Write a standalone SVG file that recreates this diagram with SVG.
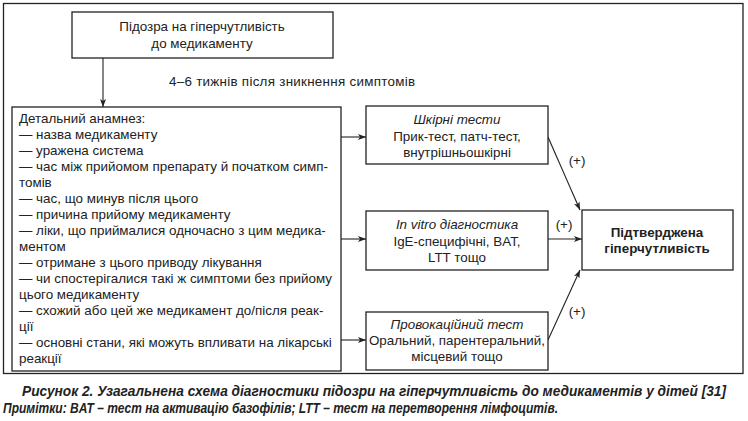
<svg xmlns="http://www.w3.org/2000/svg" width="748" height="421" viewBox="0 0 748 421">
<style>
.box{fill:#fff;stroke:#222;stroke-width:1.3}
.frame{fill:none;stroke:#222;stroke-width:1.3}
.t{font-family:"Liberation Sans",Arial,sans-serif;font-size:13.4px;fill:#222}
.c{text-anchor:middle}
.i{font-style:italic}
.b{font-weight:bold}
.cap{font-family:"Liberation Sans",Arial,sans-serif;font-size:14px;font-weight:bold;font-style:italic;fill:#222}
.ln{stroke:#222;stroke-width:1.1;fill:none}
</style>
<defs>
<marker id="ah" markerWidth="8" markerHeight="6" refX="8" refY="3" orient="auto" markerUnits="userSpaceOnUse">
<path d="M0,0 L8,3 L0,6 L2,3 Z" fill="#222"/>
</marker>
</defs>
<rect width="748" height="421" fill="#fff"/>
<rect class="frame" x="3.5" y="3.5" width="739.5" height="370"/>
<g id="connectors">
<line class="ln" x1="103" y1="58" x2="103" y2="107" marker-end="url(#ah)"/>
<line class="ln" x1="341" y1="137" x2="366" y2="137" marker-end="url(#ah)"/>
<line class="ln" x1="341" y1="239" x2="366" y2="239" marker-end="url(#ah)"/>
<line class="ln" x1="341" y1="340" x2="366" y2="340" marker-end="url(#ah)"/>
<line class="ln" x1="548" y1="137" x2="580" y2="210" marker-end="url(#ah)"/>
<line class="ln" x1="548" y1="239" x2="582" y2="239" marker-end="url(#ah)"/>
<line class="ln" x1="548" y1="340" x2="580" y2="270" marker-end="url(#ah)"/>
<text class="t" x="577" y="165" text-anchor="middle">(+)</text>
<text class="t" x="564" y="229" text-anchor="middle">(+)</text>
<text class="t" x="577" y="316" text-anchor="middle">(+)</text>
<text class="t" x="169" y="86" textLength="246" lengthAdjust="spacing">4–6 тижнів після зникнення симптомів</text>
</g>
<g id="suspicion">
<rect class="box" x="72" y="12" width="261" height="46"/>
<text class="t c" x="202" y="31">Підозра на гіперчутливість</text>
<text class="t c" x="202" y="48">до медикаменту</text>
</g>
<g id="anamnesis">
<rect class="box" x="12" y="107" width="329" height="264"/>
<text class="t" x="19" y="123">Детальний анамнез:</text>
<text class="t" x="19" y="139">— назва медикаменту</text>
<text class="t" x="19" y="155">— уражена система</text>
<text class="t" x="19" y="171">— час між прийомом препарату й початком симп-</text>
<text class="t" x="19" y="187">томів</text>
<text class="t" x="19" y="203">— час, що минув після цього</text>
<text class="t" x="19" y="219">— причина прийому медикаменту</text>
<text class="t" x="19" y="235">— ліки, що приймалися одночасно з цим медика-</text>
<text class="t" x="19" y="251">ментом</text>
<text class="t" x="19" y="267">— отримане з цього приводу лікування</text>
<text class="t" x="19" y="283">— чи спостерігалися такі ж симптоми без прийому</text>
<text class="t" x="19" y="299">цього медикаменту</text>
<text class="t" x="19" y="315">— схожий або цей же медикамент до/після реак-</text>
<text class="t" x="19" y="331">ції</text>
<text class="t" x="19" y="347">— основні стани, які можуть впливати на лікарські</text>
<text class="t" x="19" y="363">реакції</text>
</g>
<g id="skin">
<rect class="box" x="366" y="106" width="182" height="58"/>
<text class="t c i" x="457" y="124">Шкірні тести</text>
<text class="t c" x="457" y="141">Прик-тест, патч-тест,</text>
<text class="t c" x="457" y="157">внутрішньошкірні</text>
</g>
<g id="invitro">
<rect class="box" x="366" y="211" width="182" height="59"/>
<text class="t c i" x="457" y="229">In vitro діагностика</text>
<text class="t c" x="457" y="246">IgE-специфічні, BAT,</text>
<text class="t c" x="457" y="262">LTT тощо</text>
</g>
<g id="provocation">
<rect class="box" x="366" y="312" width="182" height="58"/>
<text class="t c i" x="457" y="329">Провокаційний тест</text>
<text class="t c" x="457" y="345">Оральний, парентеральний,</text>
<text class="t c" x="457" y="361">місцевий тощо</text>
</g>
<g id="confirmed">
<rect class="box" x="582" y="210" width="151" height="60"/>
<text class="t c b" x="657" y="237">Підтверджена</text>
<text class="t c b" x="657" y="253">гіперчутливість</text>
</g>
<text class="cap" x="22" y="396" textLength="704" lengthAdjust="spacingAndGlyphs">Рисунок 2. Узагальнена схема діагностики підозри на гіперчутливість до медикаментів у дітей [31]</text>
<text class="cap" x="3" y="413" textLength="555" lengthAdjust="spacingAndGlyphs">Примітки: BAT – тест на активацію базофілів; LTT – тест на перетворення лімфоцитів.</text>
</svg>
